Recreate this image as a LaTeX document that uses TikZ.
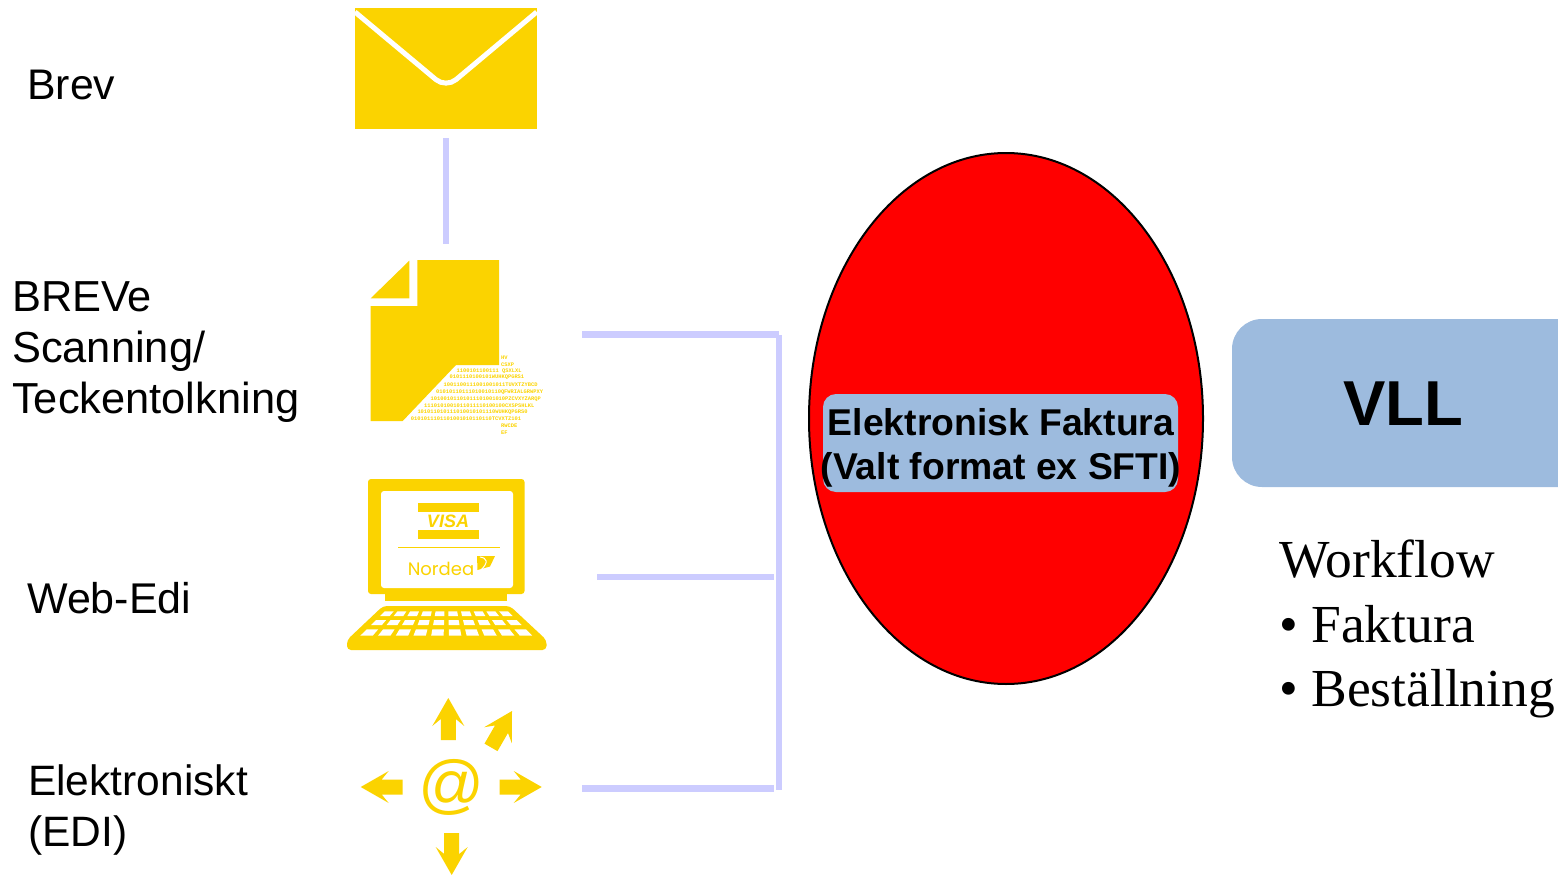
\documentclass[tikz,border=0pt]{standalone}
\usepackage{fontspec}
\setmainfont{Liberation Sans}
\newfontfamily\serifrm{Liberation Serif}
\newfontfamily\monorm{Liberation Mono}
\newfontfamily\widesans{Poppins}
\definecolor{ylw}{HTML}{FBD300}
\definecolor{lilac}{HTML}{CCCCFF}
\definecolor{bluebox}{HTML}{9DBBDE}
\tikzset{
  lbl/.style={anchor=west,align=left,inner sep=0pt,font=\fontsize{43}{51}\selectfont},
  conn/.style={draw=lilac,line width=6.3pt},
  binline/.style={anchor=west,inner sep=0pt,text=ylw,font=\monorm\bfseries\fontsize{5.4}{6}\selectfont},
}
\begin{document}
\begin{tikzpicture}[x=1pt,y=-1pt]
\useasboundingbox (0,0) rectangle (1558,875);
% labels
\node[lbl,font=\fontsize{42.8}{51}\selectfont] (brev) at (27,85) {Brev};
\node[lbl,font=\fontsize{43.4}{51}\selectfont] (breve) at (12,352) {BREVe\\Scanning/\\Teckentolkning};
\node[lbl] (web) at (27,598) {Web-Edi};
\node[lbl,font=\fontsize{42.5}{51}\selectfont] (edi) at (28,809.5) {Elektroniskt\\(EDI)};
% envelope
\fill[ylw] (355,8.3) rectangle (536.7,129.3);
\draw[white,line width=5pt,rounded corners=13pt] (355,12) -- (446,88) -- (536.7,12);
% document
\fill[ylw] (417.3,260) -- (499,260) -- (499,365) -- (456,365) -- (402.7,421) -- (370.7,421) -- (370.7,306) -- (417.3,306) -- cycle;
\fill[ylw] (409.3,260.7) -- (409.3,298.3) -- (370.7,298.3) -- cycle;
\node[binline] (b1) at (501,358) {HV};
\node[binline] (b2) at (501,364.5) {CSXP};
\node[binline] (b3) at (456.5,371) {1100101100111 QSXLXL};
\node[binline] (b4) at (449.5,377.7) {0101110100101WUHKQPGRS1};
\node[binline] (b5) at (443.5,385) {1001100111001001011TUVXTZYBCD};
\node[binline] (b6) at (436,392.2) {01010110111010010110QFWRIALGRWPXY};
\node[binline] (b7) at (430.5,399) {10100101101011101001010PZCVXYZARQP};
\node[binline] (b8) at (424,405.7) {1110101001011011110100100CXSPSHLKL};
\node[binline] (b9) at (417.3,412.3) {101011010111010010101110WUHKQPGRS0};
\node[binline] (b10) at (410.7,419) {0101011101101001010110110TCVXTZ101};
\node[binline] (b11) at (501,425.5) {RWCDE};
\node[binline] (b12) at (501,432.3) {EF};
% laptop
\fill[ylw,rounded corners=3pt] (368,479) rectangle (524.5,594);
\fill[ylw] (385,590) rectangle (507,601);
\fill[white,rounded corners=3pt] (381,491) rectangle (513,588);
\fill[ylw] (418,503) rectangle (478.5,512);
\fill[ylw] (418,530) rectangle (478.5,538.5);
\node[inner sep=0pt,text=ylw,font=\bfseries\itshape\fontsize{18}{20}\selectfont] (visa) at (448,521) {VISA};
\fill[ylw] (398,546.7) rectangle (500,547.7);
\node[inner sep=0pt,text=ylw,font=\widesans\fontsize{18}{18}\selectfont] (nordea) at (441,568.5) {Nordea};
\fill[ylw] (477,556) -- (495,556) -- (490,566.5) -- (477.5,570) -- cycle;
\draw[white,line width=1pt] (480,557) .. controls (487,558) and (489,562) .. (481,570);
\fill[ylw,rounded corners=4pt] (383,606) -- (510,606) -- (546.5,640) -- (546.5,650) -- (347,650) -- (347,640) -- cycle;
\foreach \r/\yt/\yb in {0/611.3/616, 1/620/625, 2/629.3/635.7} {
  \foreach \k in {0,...,9} {
    \pgfmathsetmacro{\wt}{63.5+1.03*(\yt-611.3)}
    \pgfmathsetmacro{\wb}{63.5+1.03*(\yb-611.3)}
    \pgfmathsetmacro{\ua}{-1+\k/5+0.025}
    \pgfmathsetmacro{\ub}{-1+(\k+1)/5-0.035}
    \fill[white] ({446.7+\ua*\wt},\yt) -- ({446.7+\ub*\wt},\yt) -- ({446.7+\ub*\wb},\yb) -- ({446.7+\ua*\wb},\yb) -- cycle;
  }
}
% arrows
\foreach \tx/\ty/\ang in {448.3/698/0, 512/711/-30, 541.7/787/-90, 451.7/875/180, 360.7/787/90} {
  \fill[ylw,shift={(\tx,\ty)},rotate=\ang] (0,0) -- (16,28) -- (7.5,21) -- (7.5,42) -- (-7.5,42) -- (-7.5,21) -- (-16,28) -- cycle;
}
\node[inner sep=0pt,text=ylw,font=\itshape\fontsize{65}{65}\selectfont] (at) at (450,787) {@};
% connectors
\coordinate (e1) at (446,138);
\coordinate (e2) at (446,244);
\coordinate (a1) at (582,334.5);
\coordinate (a2) at (779,334.5);
\coordinate (v1) at (778.8,335);
\coordinate (v2) at (778.8,790);
\coordinate (a3) at (774,788.5);
\coordinate (a4) at (582,788.5);
\coordinate (c1) at (597,577);
\coordinate (c2) at (774,577);
\draw[conn] (e1) -- (e2);
\draw[conn] (a1) -- (a2);
\draw[conn] (v1) -- (v2);
\draw[conn] (a4) -- (a3);
\draw[conn] (c1) -- (c2);
% ellipse
\draw[fill=red,draw=black,line width=2pt] (1006,418.5) ellipse [x radius=197,y radius=265.5];
\node[fill=bluebox,rounded corners=13pt,minimum width=355pt,minimum height=98pt,inner sep=0pt] (ef) at (1000.5,443) {};
\node[inner sep=0pt,align=center,font=\bfseries\fontsize{37.3}{44}\selectfont] (eft) at (1001,448) {Elektronisk Faktura\\(Valt format ex SFTI)};
% VLL
\fill[bluebox,rounded corners=30pt] (1232,319) rectangle (1600,487);
\node[inner sep=0pt,font=\bfseries\fontsize{63.5}{64}\selectfont] (vll) at (1403,404) {VLL};
\node[anchor=north west,inner sep=0pt,align=left,font=\serifrm\fontsize{53.5}{64.5}\selectfont] (wf) at (1279,540) {Workflow\\\textbullet\ Faktura\\\textbullet\ Beställning};
\end{tikzpicture}
\end{document}
